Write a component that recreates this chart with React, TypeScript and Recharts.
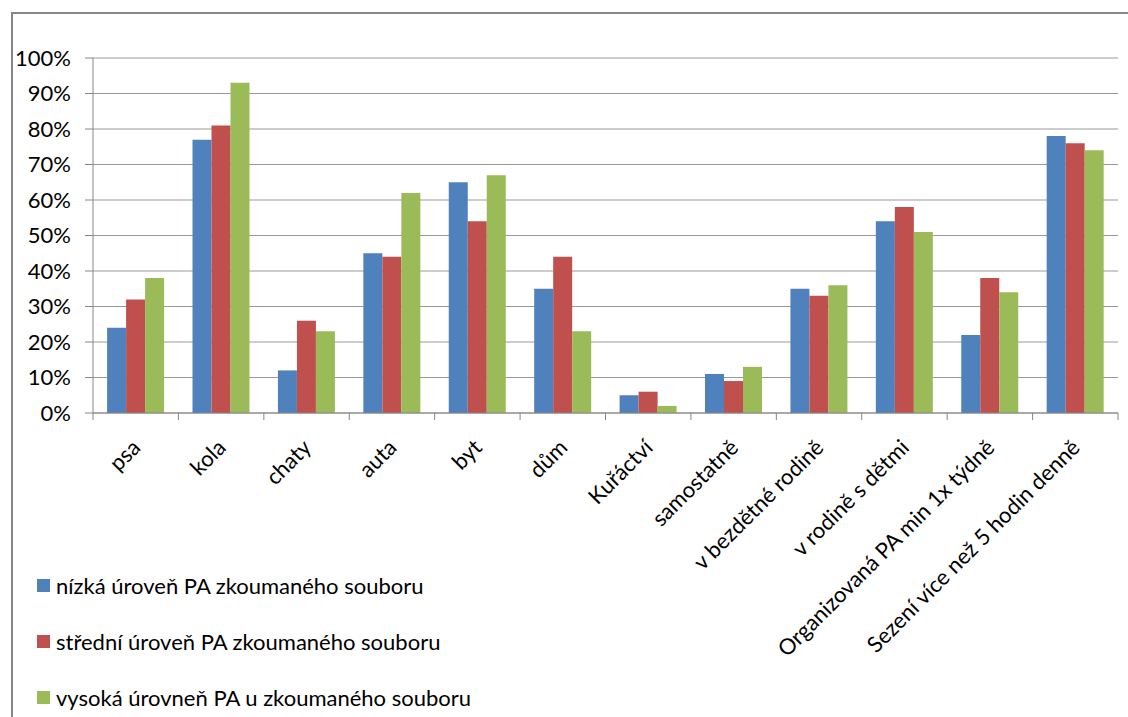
import React from 'react';
import { BarChart, Bar, XAxis, YAxis, CartesianGrid, Legend } from 'recharts';

const categories = [
  'psa', 'kola', 'chaty', 'auta', 'byt', 'dům', 'Kuřáctví', 'samostatně',
  'v bezdětné rodině', 'v rodině s dětmi', 'Organizovaná PA min 1x týdně', 'Sezení více než 5 hodin denně',
];
const lowPA = [24, 77, 12, 45, 65, 35, 5, 11, 35, 54, 22, 78];
const midPA = [32, 81, 26, 44, 54, 44, 6, 9, 33, 58, 38, 76];
const highPA = [38, 93, 23, 62, 67, 23, 2, 13, 36, 51, 34, 74];
const seriesKeys = ['low', 'mid', 'high'];
const seriesNames = [
  'nízká úroveň PA zkoumaného souboru',
  'střední úroveň PA zkoumaného souboru',
  'vysoká úrovneň PA u zkoumaného souboru',
];
const seriesColors = ['#4F81BD', '#C0504D', '#9BBB59'];
const yTicks = [0, 10, 20, 30, 40, 50, 60, 70, 80, 90, 100];

const data = categories.map((name, i) => ({ name, low: lowPA[i], mid: midPA[i], high: highPA[i] }));

const FONT = 'Lato, "Open Sans", sans-serif';
const AXIS = '#868686';

const XTick = (props: any) => {
  const { x, y, payload, index } = props;
  const half = payload && payload.offset != null ? payload.offset : 1025 / 24;
  const isLast = index === categories.length - 1;
  return (
    <g>
      <line x1={x - half} y1={y} x2={x - half} y2={y + 7} stroke={AXIS} />
      {isLast && <line x1={x + half} y1={y} x2={x + half} y2={y + 7} stroke={AXIS} />}
      <text
        x={x + 6}
        y={y + 36}
        transform={`rotate(-45, ${x + 6}, ${y + 36})`}
        textAnchor="end"
        fill="#000"
        fontSize={22}
        fontFamily={FONT}
      >
        {payload.value}
      </text>
    </g>
  );
};

const LegendContent = () => (
  <div style={{ fontFamily: FONT, fontSize: 22, color: '#000' }}>
    {seriesNames.map((n, i) => (
      <div key={n} style={{ height: 56, display: 'flex', alignItems: 'center' }}>
        <span style={{ width: 13, height: 13, background: seriesColors[i], display: 'inline-block', marginRight: 6 }} />
        <span>{n}</span>
      </div>
    ))}
  </div>
);

export default function App() {
  return (
    <div style={{ position: 'absolute', left: 0, top: 0, width: 1128, height: 717, background: '#fff', overflow: 'hidden' }}>
      <div
        style={{
          position: 'absolute', left: 11, top: 12, right: -5, bottom: -5,
          borderTop: `2px solid ${AXIS}`, borderLeft: `2px solid ${AXIS}`,
        }}
      />
      <div style={{ position: 'absolute', left: 0, top: 0 }}>
        <BarChart
          width={1128}
          height={717}
          data={data}
          margin={{ top: 58, right: 10, bottom: 0, left: 0 }}
          barCategoryGap="16.5%"
          barGap={0}
        >
          <CartesianGrid vertical={false} stroke="#999" strokeWidth={1} />
          <YAxis
            width={93}
            domain={[0, 100]}
            ticks={yTicks}
            interval={0}
            tickFormatter={(v: number) => `${v}%`}
            tickSize={8}
            tickMargin={14}
            axisLine={{ stroke: AXIS }}
            tickLine={{ stroke: AXIS }}
            tick={{ fill: '#000', fontSize: 22, fontFamily: FONT }}
          />
          <XAxis
            dataKey="name"
            height={304}
            interval={0}
            tickSize={0}
            tickMargin={0}
            axisLine={{ stroke: AXIS }}
            tickLine={false}
            tick={<XTick />}
          />
          <Legend
            layout="vertical"
            align="center"
            verticalAlign="middle"
            wrapperStyle={{ left: 37, top: 557, width: 520, height: 168 }}
            content={<LegendContent />}
          />
          {seriesKeys.map((k, i) => (
            <Bar key={k} dataKey={k} name={seriesNames[i]} fill={seriesColors[i]} isAnimationActive={false} />
          ))}
        </BarChart>
      </div>
    </div>
  );
}
